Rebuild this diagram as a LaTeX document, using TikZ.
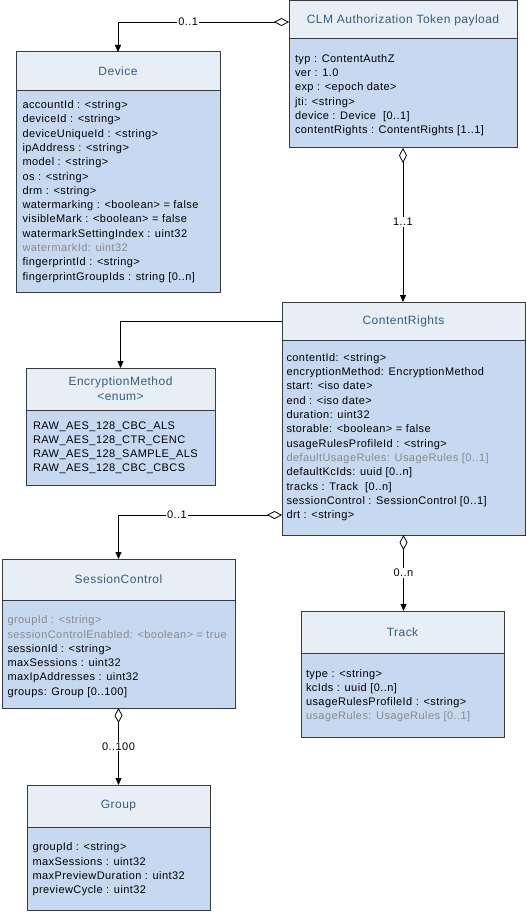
\documentclass[tikz,border=0pt]{standalone}
\usepackage{fontspec}
\setmainfont{Liberation Sans}[LetterSpace=4]
\usetikzlibrary{arrows.meta}
\definecolor{hdr}{HTML}{E8EEF6}
\definecolor{bdy}{HTML}{C6D9F0}
\definecolor{ttl}{HTML}{2F5F80}
\definecolor{dim}{HTML}{8A8A8A}
\definecolor{edge}{HTML}{3A3A3A}
\newcommand\attrs[4]{\parbox[c][#1pt][t]{#2pt}{\vspace*{#3pt}\fontsize{11}{14.3}\selectfont\raggedright\strut #4}}
\newcommand\dimtxt[1]{\textcolor{dim}{#1}}
\tikzset{
  hdrbox/.style={draw=edge, line width=1pt, fill=hdr, anchor=north west, inner sep=0pt, outer sep=0pt,
    align=center, font=\fontsize{12}{15}\selectfont, text=ttl},
  bodybox/.style={draw=edge, line width=1pt, fill=bdy, anchor=north west, inner ysep=0pt, outer sep=0pt},
  conn/.style={draw=black, line width=0.8pt},
  agg/.style={{Diamond[open,length=15pt,width=8pt]}-{Triangle[length=7pt,width=6pt]}},
  nav/.style={-{Triangle[length=7pt,width=6pt]}},
  lbl/.style={fill=white, inner sep=1pt, font=\fontsize{11}{13}\selectfont, text=black}
}
\begin{document}
\begin{tikzpicture}[x=1pt,y=-1pt]
\useasboundingbox (0,0) rectangle (526,912);

% CLM Authorization Token payload
\node[hdrbox, minimum width=228, minimum height=38] (clmh) at (289,1) {CLM Authorization Token payload};
\node[bodybox, inner xsep=6pt] (clmb) at (clmh.south west) {\attrs{109}{216}{13.3}{typ : ContentAuthZ\\
ver : 1.0\\
exp : <epoch date>\\
jti: <string>\\
device : Device~ [0..1]\\
contentRights : ContentRights [1..1]}};

% Device
\node[hdrbox, minimum width=204, minimum height=39] (devh) at (16,52) {Device};
\node[bodybox, inner xsep=6.5pt] (devb) at (devh.south west) {\attrs{201}{191}{7.5}{accountId : <string>\\
deviceId : <string>\\
deviceUniqueId : <string>\\
ipAddress : <string>\\
model : <string>\\
os : <string>\\
drm : <string>\\
watermarking : <boolean> = false\\
visibleMark : <boolean> = false\\
watermarkSettingIndex : uint32\\
\dimtxt{watermarkId: uint32}\\
fingerprintId : <string>\\
fingerprintGroupIds : string [0..n]}};

% ContentRights
\node[hdrbox, minimum width=243, minimum height=38] (crh) at (282,302) {ContentRights};
\node[bodybox, inner xsep=4.5pt] (crb) at (crh.south west) {\attrs{195}{234}{11.3}{contentId: <string>\\
encryptionMethod: EncryptionMethod\\
start: <iso date>\\
end : <iso date>\\
duration: uint32\\
storable: <boolean> = false\\
usageRulesProfileId : <string>\\
\dimtxt{defaultUsageRules: UsageRules [0..1]}\\
defaultKcIds: uuid [0..n]\\
tracks : Track~ [0..n]\\
sessionControl : SessionControl [0..1]\\
drt : <string>}};

% EncryptionMethod
\node[hdrbox, minimum width=189, minimum height=42] (ench) at (26,368) {EncryptionMethod\\<enum>};
\node[bodybox, inner xsep=7pt] (encb) at (ench.south west) {\attrs{75}{175}{9}{RAW\_AES\_128\_CBC\_ALS\\
RAW\_AES\_128\_CTR\_CENC\\
RAW\_AES\_128\_SAMPLE\_ALS\\
RAW\_AES\_128\_CBC\_CBCS}};

% SessionControl
\node[hdrbox, minimum width=233, minimum height=41] (sch) at (2,559) {SessionControl};
\node[bodybox, inner xsep=5.5pt] (scb) at (sch.south west) {\attrs{108}{222}{13.7}{\dimtxt{groupId : <string>}\\
\dimtxt{sessionControlEnabled: <boolean> = true}\\
sessionId : <string>\\
maxSessions : uint32\\
maxIpAddresses : uint32\\
groups: Group [0..100]}};

% Track
\node[hdrbox, minimum width=203, minimum height=42] (trkh) at (301,611) {Track};
\node[bodybox, inner xsep=5pt] (trkb) at (trkh.south west) {\attrs{84}{193}{14}{type : <string>\\
kcIds : uuid [0..n]\\
usageRulesProfileId : <string>\\
\dimtxt{usageRules: UsageRules [0..1]}}};

% Group
\node[hdrbox, minimum width=183, minimum height=42] (grph) at (27,785) {Group};
\node[bodybox, inner xsep=5.5pt] (grpb) at (grph.south west) {\attrs{83}{172}{13.7}{groupId : <string>\\
maxSessions : uint32\\
maxPreviewDuration : uint32\\
previewCycle : uint32}};

% connectors
\draw[conn, agg] ([yshift=-2pt]clmh.west) -| node[lbl, pos=0.295] {0..1} (devh.north);
\draw[conn, agg] (clmb.south) -- node[lbl, pos=0.48] {1..1} (clmb.south |- crh.north);
\draw[conn, nav] (crh.west) -| (ench.north);
\draw[conn, agg] ([yshift=20pt]crb.south west) -| node[lbl, pos=0.321] {0..1} (sch.north);
\draw[conn, agg] (crb.south) -- node[lbl, pos=0.5] {0..n} (crb.south |- trkh.north);
\draw[conn, agg] (scb.south) -- node[lbl, pos=0.5] {0..100} (scb.south |- grph.north);
\end{tikzpicture}
\end{document}
